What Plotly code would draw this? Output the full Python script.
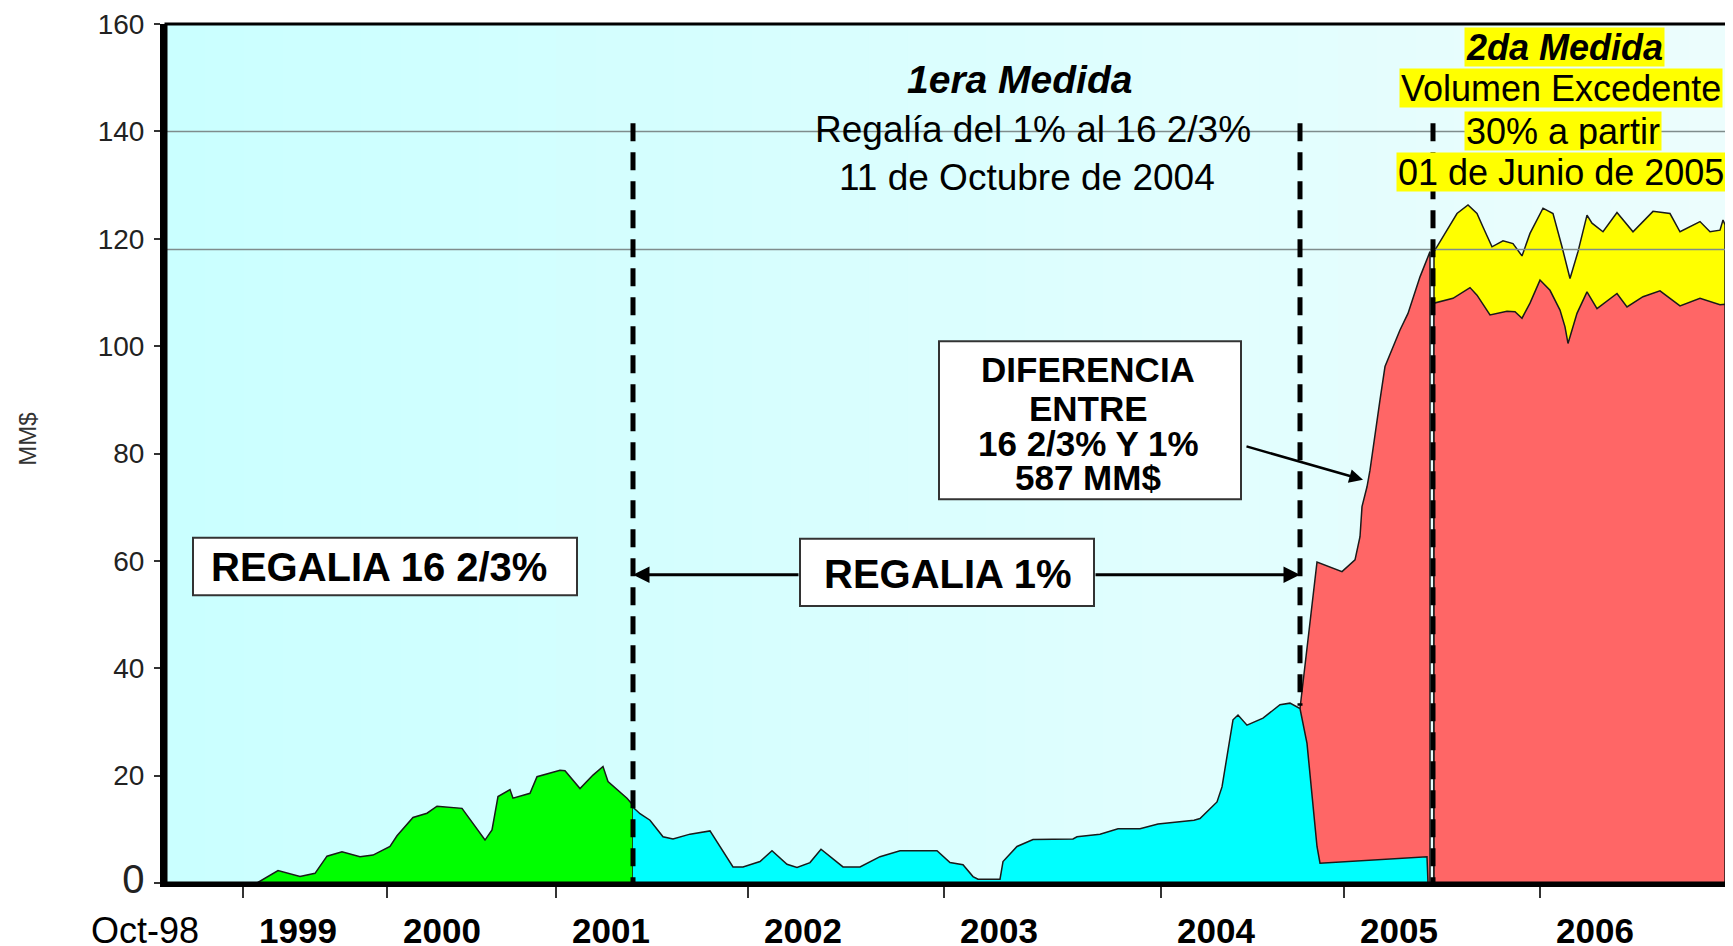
import plotly.graph_objects as go

# ---------------- data (x = observation index along the timeline, y = MM$) ----------------
green_x = [0, 91, 112, 134, 149, 161, 176, 194, 207, 224, 231, 247, 261, 271, 296, 307, 319, 326,
           332, 344, 347, 364, 371, 394, 399, 414, 427, 437, 442, 461, 467, 467]
green_y = [0, 0, 2.3, 1.2, 1.8, 5.0, 5.8, 4.9, 5.2, 6.8, 8.8, 12.2, 13.0, 14.3, 13.9, 11.1, 8.0, 9.9,
           16.1, 17.4, 15.8, 16.7, 19.8, 21.0, 20.9, 17.6, 20.1, 21.7, 18.9, 15.8, 14.5, 0]

cyan_x = [467, 474, 484, 497, 507, 524, 544, 554, 567, 577, 594, 606, 621, 631, 644, 655, 677, 694,
          714, 734, 771, 784, 797, 807, 812, 834, 837, 851, 867, 907, 911, 934, 952, 974, 992, 1028,
          1034, 1051, 1056, 1067, 1072, 1081, 1097, 1114, 1124, 1134, 1141, 1151, 1154, 1261, 1262]
cyan_y = [14.1, 12.9, 11.7, 8.6, 8.2, 9.1, 9.7, 6.8, 3.0, 3.0, 4.0, 6.0, 3.5, 2.9, 3.8, 6.3, 3.0, 3.0,
          4.9, 6.0, 6.0, 3.8, 3.4, 1.2, 0.7, 0.7, 4.0, 6.8, 8.1, 8.2, 8.6, 9.1, 10.1, 10.1, 11.0, 11.7,
          12.0, 15.1, 17.9, 30.4, 31.3, 29.4, 30.7, 33.2, 33.5, 32.5, 26.0, 6.8, 3.7, 4.9, 0]

red1_x = [1134, 1151, 1176, 1189, 1194, 1196, 1201, 1204, 1214, 1219, 1234, 1242, 1254, 1264, 1264]
red1_y = [32.5, 59.8, 58.0, 60.2, 64.5, 70.1, 73.8, 76.9, 90.0, 96.2, 103.0, 106.1, 112.9, 117.6, 0]

red2_x = [1268, 1268, 1287, 1304, 1311, 1324, 1341, 1349, 1356, 1364, 1374, 1384, 1394, 1399, 1402,
          1411, 1421, 1431, 1451, 1461, 1477, 1494, 1514, 1534, 1554, 1559, 1559]
red2_y = [0, 108.0, 108.9, 110.9, 109.5, 105.8, 106.5, 106.4, 105.2, 108.0, 112.3, 110.4, 106.7, 103.6,
          100.5, 106.1, 110.1, 107.0, 109.8, 107.3, 109.2, 110.3, 107.5, 108.9, 107.7, 107.8, 0]

yellow_x = [1268, 1268, 1281, 1291, 1302, 1311, 1317, 1326, 1337, 1347, 1356, 1364, 1377, 1387, 1396,
            1404, 1412, 1421, 1426, 1437, 1451, 1467, 1487, 1504, 1514, 1534, 1544, 1554, 1557, 1559, 1559]
yellow_y = [0, 117.6, 121.6, 124.7, 126.3, 124.7, 122.2, 118.5, 119.6, 119.1, 116.8, 121.0, 125.7, 124.7,
            118.5, 112.6, 117.6, 124.4, 122.9, 121.3, 124.9, 121.3, 125.1, 124.7, 121.3, 123.2, 121.3,
            121.6, 123.5, 122.6, 0]

# axis ticks / labels
year_tick_x = [77, 221, 390, 582, 778, 995, 1178, 1374]
year_label_x = [132, 276, 445, 637, 833, 1050, 1233, 1429]
year_labels = ["1999", "2000", "2001", "2002", "2003", "2004", "2005", "2006"]
start_label = "Oct-98"
start_label_x = -21
y_ticks = [0, 20, 40, 60, 80, 100, 120, 140, 160]

# reference lines / event markers
hlines_y = [140, 118]
event_x = [467, 1134, 1267]
event_bottom = [0, 33, 0]
event_top = 141.5

X_MAX = 1562
FONT = "Liberation Sans, Arial, sans-serif"
NARROW = "Liberation Sans Narrow, Arial Narrow, Liberation Sans, Arial, sans-serif"

fig = go.Figure()
outline = dict(color="#1a1a1a", width=1.5)
series = [
    (yellow_x, yellow_y, "#FFFF00", "Volumen excedente"),
    (red2_x, red2_y, "#FF6666", "Regalía 16 2/3% (2da)"),
    (red1_x, red1_y, "#FF6666", "Regalía 16 2/3%"),
    (green_x, green_y, "#00FF00", "Regalía 16 2/3% (antes)"),
    (cyan_x, cyan_y, "#00FFFF", "Regalía 1%"),
]
for xs, ys, col, nm in series:
    fig.add_trace(go.Scatter(x=xs, y=ys, mode="lines", fill="tozeroy", fillcolor=col,
                             line=outline, name=nm, hoverinfo="skip"))

shapes = []
# background gradient
N = 40
c0 = (202, 255, 255)
c1 = (236, 253, 253)
for i in range(N):
    t = i / (N - 1)
    c = tuple(round(c0[k] + (c1[k] - c0[k]) * t) for k in range(3))
    shapes.append(dict(type="rect", xref="x domain", yref="y domain", x0=i / N, x1=(i + 1) / N + 0.002,
                       y0=0, y1=1, fillcolor="rgb(%d,%d,%d)" % c, line=dict(width=0), layer="below"))
# horizontal lines
for hy in hlines_y:
    shapes.append(dict(type="line", xref="x domain", yref="y", x0=0, x1=1, y0=hy, y1=hy,
                       line=dict(color="#7f8c8c", width=1.5), layer="above"))
# dashed event lines
for ex, eb in zip(event_x, event_bottom):
    shapes.append(dict(type="line", xref="x", yref="y", x0=ex, x1=ex, y0=event_top, y1=eb,
                       line=dict(color="black", width=5, dash="18px,11px"), layer="above"))
# text boxes
boxes = [(27, 411, 53.6, 64.3), (634, 928, 51.6, 64.1), (773, 1075, 71.5, 100.9)]
for bx0, bx1, by0, by1 in boxes:
    shapes.append(dict(type="rect", xref="x", yref="y", x0=bx0, x1=bx1, y0=by0, y1=by1,
                       fillcolor="white", line=dict(color="#333333", width=2), layer="above"))
# frame
shapes.append(dict(type="rect", xref="x domain", yref="y domain", x0=0, x1=1, y0=0, y1=1,
                   line=dict(color="black", width=3), fillcolor="rgba(0,0,0,0)", layer="above"))

ann = []
def txt(x, y, s, size, bg=None, **kw):
    d = dict(x=x, y=y, xref="x", yref="y", text=s, showarrow=False,
             font=dict(family=FONT, size=size, color="black"), xanchor="center", yanchor="middle")
    if bg:
        d.update(bgcolor=bg, borderpad=1, height=36)
    d.update(kw)
    ann.append(d)

txt(853, 149.6, "<b><i>1era Medida</i></b>", 39)
txt(867, 140.4, "Regalía del 1% al 16 2/3%", 37)
txt(861, 131.5, "11 de Octubre de 2004", 37)
txt(1398, 155.7, "<b><i>2da Medida</i></b>", 36, bg="#FFFF00")
txt(1395, 148.0, "Volumen Excedente", 36, bg="#FFFF00")
txt(1397, 140.1, "30% a partir", 36, bg="#FFFF00")
txt(1395, 132.4, "01 de Junio de 2005", 36, bg="#FFFF00")
txt(213, 58.9, "<b>REGALIA 16 2/3%</b>", 40)
txt(781, 57.6, "<b>REGALIA 1%</b>", 40)
for yy, s in zip([95.6, 88.3, 81.9, 75.6], ["DIFERENCIA", "ENTRE", "16 2/3% Y 1%", "587 MM$"]):
    txt(922, yy, "<b>" + s + "</b>", 35)

# arrows
arrow = dict(showarrow=True, arrowhead=2, arrowsize=1.1, arrowwidth=3, arrowcolor="black",
             xref="x", yref="y", axref="x", ayref="y", text="")
ann.append(dict(x=467, y=57.4, ax=634, ay=57.4, **arrow))
ann.append(dict(x=1134, y=57.4, ax=928, ay=57.4, **arrow))
ann.append(dict(x=1197, y=75.1, ax=1079, ay=81.4, **dict(arrow, arrowwidth=2.5)))

# start label of x axis (left of the plot area, so placed in paper coordinates)
ann.append(dict(x=start_label_x / X_MAX, y=0, xref="paper", yref="paper", text=start_label,
                showarrow=False, font=dict(family=FONT, size=36, color="black"),
                xanchor="center", yanchor="middle", yshift=-47))
# y title
ann.append(dict(x=-0.0883, y=0.516, xref="paper", yref="paper", text="MM$", showarrow=False,
                textangle=-90, font=dict(family=FONT, size=24, color="#333333"),
                xanchor="center", yanchor="middle"))

y_text = [('<span style="font-size:40px">0</span>' if v == 0 else str(v)) for v in y_ticks]

# the page body adds an 8px offset, so the figure is 8px smaller than the window
fig.update_layout(
    width=1725, height=938,
    margin=dict(l=158, r=5, t=16, b=63),
    paper_bgcolor="white", plot_bgcolor="#D6FEFE",
    showlegend=False,
    shapes=shapes, annotations=ann,
    xaxis=dict(range=[0, X_MAX], showgrid=False, zeroline=False, automargin=False,
               showline=True, linecolor="black", linewidth=4,
               tickmode="array", tickvals=year_label_x, ticktext=["<b>%s</b>" % s for s in year_labels],
               ticks="", ticklabelstandoff=14,
               tickfont=dict(family=FONT, size=35, color="black"),
               minor=dict(tickmode="array", tickvals=year_tick_x, ticks="outside", ticklen=11,
                          tickwidth=2, tickcolor="#333333", showgrid=False)),
    yaxis=dict(range=[0, 160], showgrid=False, zeroline=False, automargin=False,
               showline=True, linecolor="black", linewidth=6,
               tickmode="array", tickvals=y_ticks, ticktext=y_text,
               ticks="outside", ticklen=6, tickwidth=1.5, tickcolor="#333333",
               ticklabelstandoff=4,
               tickfont=dict(family=NARROW, size=28, color="#222222")),
)

fig.write_html("out.html")
